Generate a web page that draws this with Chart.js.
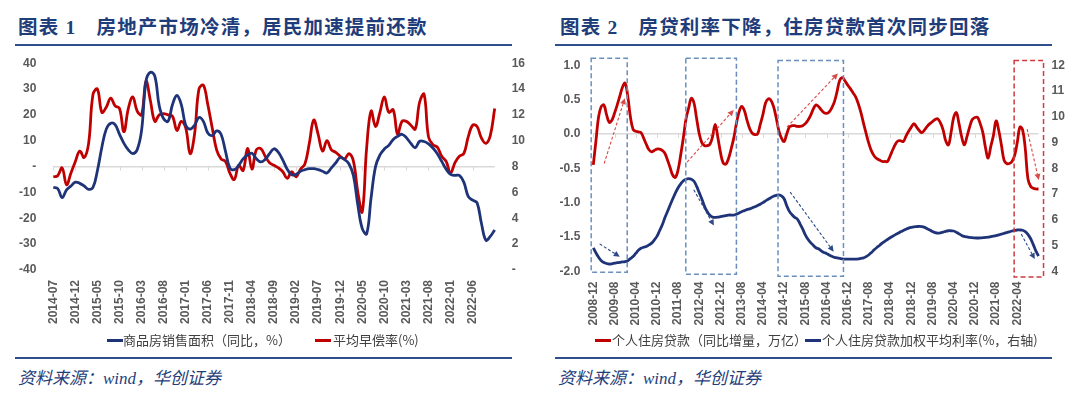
<!DOCTYPE html>
<html><head><meta charset="utf-8">
<script src="https://cdn.jsdelivr.net/npm/chart.js@4.4.0/dist/chart.umd.min.js"></script>
<style>
html,body{margin:0;padding:0;background:#fff;}
body{width:1080px;height:397px;overflow:hidden;position:relative;font-family:"Noto Sans CJK SC",sans-serif;}
.title{position:absolute;top:15px;font-size:19.5px;line-height:26px;font-weight:bold;color:#1f3d7a;letter-spacing:1.2px;white-space:nowrap;font-family:"Liberation Serif","Noto Sans CJK SC",serif;}
.title .b{margin-left:20px;}
.rule{position:absolute;height:2px;background:#2e4f8c;}
.chartbox{position:absolute;width:540px;}
.leg{position:absolute;top:331px;font-size:13px;line-height:18px;color:#404040;white-space:nowrap;}
.sw{position:absolute;top:339px;width:16px;height:3px;}
.source{position:absolute;top:368px;font-size:17px;line-height:22px;font-style:italic;color:#1f3d7a;font-family:"Liberation Serif","Noto Sans CJK SC",serif;white-space:nowrap;}
</style></head>
<body>
<div class="title" style="left:18px">图表 1<span class="b">房地产市场冷清，居民加速提前还款</span></div>
<div class="title" style="left:560px">图表 2<span class="b">房贷利率下降，住房贷款首次同步回落</span></div>
<div class="rule" style="left:15px;width:497px;top:44px"></div>
<div class="rule" style="left:555px;width:497px;top:44px"></div>

<div class="chartbox" style="left:0;top:39px;height:301px"><canvas id="c1" width="540" height="301"></canvas></div>
<div class="chartbox" style="left:540px;top:45px;height:295px"><canvas id="c2" width="540" height="295"></canvas></div>

<div class="sw" style="left:107px;background:#1f3478"></div>
<div class="leg" style="left:123px">商品房销售面积（同比，%）</div>
<div class="sw" style="left:315px;background:#c00000"></div>
<div class="leg" style="left:333px">平均早偿率(%)</div>

<div class="sw" style="left:595px;background:#c00000"></div>
<div class="leg" style="left:612px">个人住房贷款（同比增量，万亿）</div>
<div class="sw" style="left:805px;background:#1f3478"></div>
<div class="leg" style="left:822px">个人住房贷款加权平均利率(%，右轴)</div>

<div class="rule" style="left:15px;width:497px;top:357px"></div>
<div class="rule" style="left:555px;width:497px;top:357px"></div>
<div class="source" style="left:18px">资料来源：wind，华创证券</div>
<div class="source" style="left:558px">资料来源：wind，华创证券</div>

<script>
// ---------- DATA ----------
function monthRange(start, end) {
  let [y, m] = start.split('-').map(Number); const out = [];
  while (true) { const s = y + '-' + String(m).padStart(2, '0'); out.push(s); if (s === end) break; m++; if (m > 12) { m = 1; y++; } }
  return out;
}
// Chart 1 categories (monthly)
const leftMonths = monthRange('2014-07', '2022-11');
const leftTickLabels = ['2014-07','2014-12','2015-05','2015-10','2016-03','2016-08','2017-01','2017-06','2017-11','2018-04','2018-09','2019-02','2019-07','2019-12','2020-05','2020-10','2021-03','2021-08','2022-01','2022-06'];
// 商品房销售面积（同比，%） - left axis
const salesAreaYoY = [
 -8, -8.5, -12, -9, -7.5, -6, -6.5, -7.5, -8.8, -8,
 -1.5, 7.5, 14.5, 16.8, 16.2, 12.5, 9, 6.5, 5, 6.5,
 14, 33, 36.5, 35, 23.5, 18.5, 17.5, 24, 27.5, 24,
 16, 14.5, 16, 19, 17.5, 13, 12, 13.8, 12.5, 6,
 -0.5, -1.2, 0.5, 3, 4.5, 5.2, 3, 1.8, 2.8, 5,
 6.9, 5.5, 2.5, -1, -3.2, -3, -1.8, -1.2, -0.8, -0.8,
 -1.2, -1.8, -2.5, -0.5, 1.5, 3.5, 2.7, 1, -3.5, -15,
 -24, -26, -12, 0, 4.5, 6.8, 8.2, 10.5, 11.7, 12.5,
 11.2, 9, 7.3, 9.8, 9.7, 8.8, 7.2, 5, 2, -1,
 -3, -3.4, -3.4, -6, -11.5, -13, -14, -22, -28.5, -27,
 -24.5];
// 平均早偿率(%) - right axis
const prepayRate = [
 7.2, 7.3, 7.9, 6.6, 7.5, 8.4, 9.2, 8.7, 9.8, 13.6,
 14.0, 12.2, 12.6, 13.3, 12.7, 12.5, 10.7, 12.5, 13.4, 12.3,
 12.0, 14.6, 13.1, 11.5, 12.0, 12.1, 12.0, 11.9, 10.8, 11.5,
 11.0, 9.0, 10.5, 14.0, 14.3, 12.8, 11.0, 9.3, 8.6, 8.4,
 7.5, 7.0, 8.1, 7.7, 9.4, 7.8, 9.3, 9.4, 8.8, 8.3,
 8.1, 7.9, 7.6, 7.1, 7.6, 7.2, 7.8, 8.2, 9.8, 11.6,
 10.5, 9.2, 10.0, 9.3, 9.1, 8.8, 8.6, 9.0, 8.4, 6.0,
 4.5, 9.5, 12.3, 11.1, 12.2, 13.4, 12.2, 12.4, 10.5, 11.5,
 11.5, 11.2, 10.9, 13.0, 13.6, 10.3, 9.7, 9.5, 8.8, 8.4,
 7.5, 8.3, 8.8, 9.0, 10.3, 11.2, 11.1, 10.2, 9.8, 10.4,
 12.5];

// Chart 2 categories (monthly)
const rightMonths = monthRange('2008-12', '2022-12');
const rightTickLabels = ['2008-12','2009-08','2010-04','2010-12','2011-08','2012-04','2012-12','2013-08','2014-04','2014-12','2015-08','2016-04','2016-12','2017-08','2018-04','2018-12','2019-08','2020-04','2020-12','2021-08','2022-04'];
// 个人住房贷款（同比增量，万亿） - left axis
const mortgageYoYIncrement = [
 -0.45, -0.10, 0.25, 0.40, 0.42, 0.28, 0.17, 0.20, 0.30, 0.42,
 0.55, 0.68, 0.74, 0.55, 0.25, 0.07, 0.04, 0.03, 0.02, -0.06,
 -0.15, -0.23, -0.26, -0.24, -0.22, -0.22, -0.24, -0.28, -0.38, -0.49,
 -0.60, -0.63, -0.52, -0.30, -0.05, 0.22, 0.38, 0.52, 0.45, 0.22,
 0.00, -0.13, -0.17, -0.17, -0.15, -0.04, 0.14, -0.05, -0.27, -0.42,
 -0.44, -0.36, -0.22, -0.06, 0.15, 0.32, 0.40, 0.34, 0.20, 0.08,
 0.01, -0.01, 0.00, 0.14, 0.28, 0.45, 0.51, 0.49, 0.40, 0.24,
 0.05, -0.06, -0.11, 0.00, 0.10, 0.12, 0.12, 0.11, 0.11, 0.12,
 0.15, 0.20, 0.27, 0.36, 0.42, 0.40, 0.35, 0.31, 0.30, 0.32,
 0.38, 0.47, 0.62, 0.78, 0.82, 0.77, 0.71, 0.66, 0.60, 0.54,
 0.44, 0.31, 0.15, 0.00, -0.14, -0.25, -0.32, -0.36, -0.38, -0.40,
 -0.40, -0.40, -0.32, -0.23, -0.15, -0.10, -0.10, -0.11, -0.03, 0.04,
 0.10, 0.15, 0.10, 0.05, 0.02, 0.06, 0.11, 0.15, 0.18, 0.21,
 0.22, 0.16, 0.06, -0.10, -0.16, 0.02, 0.24, 0.31, 0.15, -0.04,
 -0.16, -0.04, 0.10, 0.21, 0.24, 0.24, 0.15, 0.02, -0.20, -0.35,
 -0.18, -0.02, 0.19, 0.05, -0.16, -0.38, -0.43, -0.43, -0.40, -0.31,
 -0.12, 0.10, 0.06, -0.21, -0.65, -0.76, -0.79, -0.80, -0.80];
// 个人住房贷款加权平均利率(%，右轴)
const mortgageRate = [
 4.92, 4.72, 4.55, 4.42, 4.35, 4.31, 4.29, 4.30, 4.32, 4.34,
 4.35, 4.37, 4.38, 4.42, 4.50, 4.58, 4.70, 4.82, 4.90, 4.94,
 4.97, 5.03, 5.10, 5.22, 5.36, 5.58, 5.80, 6.08, 6.33, 6.58,
 6.82, 7.05, 7.25, 7.40, 7.52, 7.58, 7.60, 7.58, 7.50, 7.30,
 7.05, 6.80, 6.52, 6.32, 6.18, 6.11, 6.10, 6.11, 6.13, 6.15,
 6.17, 6.19, 6.19, 6.19, 6.22, 6.27, 6.32, 6.36, 6.40, 6.43,
 6.47, 6.51, 6.56, 6.61, 6.67, 6.74, 6.80, 6.86, 6.92, 6.95,
 6.97, 6.93, 6.82, 6.55, 6.33, 6.20, 6.10, 6.03, 5.85, 5.65,
 5.42, 5.25, 5.12, 5.02, 4.92, 4.88, 4.80, 4.74, 4.70, 4.64,
 4.59, 4.55, 4.53, 4.51, 4.49, 4.48, 4.48, 4.48, 4.48, 4.48,
 4.49, 4.51, 4.53, 4.58, 4.65, 4.74, 4.84, 4.93, 5.01, 5.10,
 5.17, 5.24, 5.31, 5.37, 5.43, 5.48, 5.54, 5.59, 5.64, 5.68,
 5.71, 5.73, 5.74, 5.75, 5.74, 5.71, 5.66, 5.61, 5.55, 5.51,
 5.49, 5.50, 5.53, 5.56, 5.58, 5.58, 5.57, 5.52, 5.46, 5.40,
 5.36, 5.34, 5.32, 5.31, 5.30, 5.30, 5.30, 5.31, 5.32, 5.33,
 5.35, 5.37, 5.39, 5.42, 5.45, 5.48, 5.51, 5.54, 5.57, 5.59,
 5.61, 5.61, 5.60, 5.55, 5.44, 5.28, 5.05, 4.80, 4.60];

// Annotations for chart 2 (in category-index / axis-value units)
const highlightBoxes = [
  {from: -0.8, to: 12.8, top: 1.10, bottom: -2.01, kind: 'blue'},
  {from: 34.9, to: 54.0, top: 1.10, bottom: -2.04, kind: 'blue'},
  {from: 69.7, to: 94.4, top: 1.07, bottom: -2.07, kind: 'blue'},
  {from: 158.8, to: 169.9, top: 1.07, bottom: -2.08, kind: 'red'}
];
const trendArrows = [
  {axis: 'y',  x0: 4.1,   y0: -0.43, x1: 11.9,  y1: 0.52, kind: 'red'},
  {axis: 'y1', x0: 2.4,   y0: 5.07,  x1: 10.0,  y1: 4.57, kind: 'blue'},
  {axis: 'y',  x0: 35.4,  y0: -0.41, x1: 53.0,  y1: 0.35, kind: 'red'},
  {axis: 'y1', x0: 37.9,  y0: 7.17,  x1: 45.5,  y1: 5.78, kind: 'blue'},
  {axis: 'y',  x0: 73.1,  y0: 0.10,  x1: 92.3,  y1: 0.88, kind: 'red'},
  {axis: 'y1', x0: 74.3,  y0: 7.08,  x1: 90.7,  y1: 4.77, kind: 'blue'},
  {axis: 'y',  x0: 163.7, y0: 0.07,  x1: 168.1, y1: -0.67, kind: 'red'},
  {axis: 'y1', x0: 161.5, y0: 5.45,  x1: 166.6, y1: 4.48, kind: 'blue'}
];

// ---------- STYLE ----------
const RED = '#c00000', NAVY = '#1f3478', TICK = '#595959', GRID = '#d9d9d9';
const tickFont = {family: 'Liberation Sans', size: 12, weight: 'bold'};

const zeroTicks = {
  id: 'zeroTicks',
  beforeDatasetsDraw(chart, args, opts) {
    const {ctx} = chart, x = chart.scales.x, y0 = chart.scales[opts.axis].getPixelForValue(0);
    ctx.save(); ctx.strokeStyle = GRID; ctx.lineWidth = 1;
    opts.labels.forEach(l => {
      const i = chart.data.labels.indexOf(l); if (i < 0) return;
      const px = Math.round(x.getPixelForValue(i)) + 0.5;
      ctx.beginPath(); ctx.moveTo(px, y0); ctx.lineTo(px, y0 + 4); ctx.stroke();
    });
    ctx.restore();
  }
};

const annotations = {
  id: 'annotations',
  afterDatasetsDraw(chart) {
    const {ctx} = chart, x = chart.scales.x, y = chart.scales.y;
    ctx.save();
    highlightBoxes.forEach(b => {
      const x0 = x.getPixelForValue(b.from), x1 = x.getPixelForValue(b.to);
      const yt = y.getPixelForValue(b.top), yb = y.getPixelForValue(b.bottom);
      ctx.strokeStyle = b.kind === 'red' ? '#d23a3a' : '#6a8fbf';
      ctx.lineWidth = 1.5; ctx.setLineDash([5, 3]);
      ctx.strokeRect(x0, yt, x1 - x0, yb - yt);
    });
    trendArrows.forEach(a => {
      const sy = chart.scales[a.axis];
      const px0 = x.getPixelForValue(a.x0), py0 = sy.getPixelForValue(a.y0);
      const px1 = x.getPixelForValue(a.x1), py1 = sy.getPixelForValue(a.y1);
      const col = a.kind === 'red' ? '#d94a4a' : '#2f4a8a';
      const ang = Math.atan2(py1 - py0, px1 - px0), hl = 6, hw = 3;
      const bx = px1 - hl * Math.cos(ang), by = py1 - hl * Math.sin(ang);
      ctx.strokeStyle = col; ctx.lineWidth = 1.1; ctx.setLineDash([3, 2]);
      ctx.beginPath(); ctx.moveTo(px0, py0); ctx.lineTo(bx, by); ctx.stroke();
      ctx.setLineDash([]); ctx.fillStyle = col;
      ctx.beginPath(); ctx.moveTo(px1, py1);
      ctx.lineTo(bx + hw * Math.sin(ang), by - hw * Math.cos(ang));
      ctx.lineTo(bx - hw * Math.sin(ang), by + hw * Math.cos(ang));
      ctx.closePath(); ctx.fill();
    });
    ctx.restore();
  }
};

function xAxis(tickLabels, h) {
  const set = new Set(tickLabels);
  return {
    offset: false,
    grid: {display: false, drawTicks: false}, border: {display: false},
    ticks: {autoSkip: false, minRotation: 90, maxRotation: 90, padding: 10, color: TICK, font: tickFont,
      callback: function (v) { const l = this.getLabelForValue(v); return set.has(l) ? l : null; }},
    afterFit(s) { s.height = h; }
  };
}
function zeroGrid(ctx) { return ctx.tick && Math.abs(ctx.tick.value) < 1e-9 ? GRID : 'rgba(0,0,0,0)'; }

// ---------- CHART 1 ----------
new Chart(document.getElementById('c1'), {
  type: 'line',
  data: {labels: leftMonths, datasets: [
    {label: '商品房销售面积（同比，%）', data: salesAreaYoY, yAxisID: 'y', borderColor: NAVY, backgroundColor: NAVY, borderWidth: 2.8, pointRadius: 0, tension: 0.4, fill: false},
    {label: '平均早偿率(%)', data: prepayRate, yAxisID: 'y1', borderColor: RED, backgroundColor: RED, borderWidth: 2.8, pointRadius: 0, tension: 0.4, fill: false}
  ]},
  options: {
    responsive: false, maintainAspectRatio: false, animation: false, events: [],
    layout: {padding: 0},
    plugins: {legend: {display: false}, tooltip: {enabled: false}, zeroTicks: {axis: 'y', labels: leftTickLabels}},
    scales: {
      x: xAxis(leftTickLabels, 70),
      y: {position: 'left', min: -40, max: 40, border: {display: false},
        grid: {color: zeroGrid, lineWidth: 1.5, drawTicks: false},
        ticks: {stepSize: 10, padding: 17, color: TICK, font: tickFont, callback: v => v === 0 ? '-' : v},
        afterFit(s) { s.width = 53.3; }},
      y1: {position: 'right', min: 0, max: 16, border: {display: false}, grid: {display: false, drawTicks: false},
        ticks: {stepSize: 2, padding: 17, color: TICK, font: tickFont, callback: v => v === 0 ? '-' : v},
        afterFit(s) { s.width = 45.3; }}
    }
  },
  plugins: [zeroTicks]
});

// ---------- CHART 2 ----------
new Chart(document.getElementById('c2'), {
  type: 'line',
  data: {labels: rightMonths, datasets: [
    {label: '个人住房贷款（同比增量，万亿）', data: mortgageYoYIncrement, yAxisID: 'y', borderColor: RED, backgroundColor: RED, borderWidth: 2.8, pointRadius: 0, tension: 0.4, fill: false},
    {label: '个人住房贷款加权平均利率(%，右轴)', data: mortgageRate, yAxisID: 'y1', borderColor: NAVY, backgroundColor: NAVY, borderWidth: 2.8, pointRadius: 0, tension: 0.4, fill: false}
  ]},
  options: {
    responsive: false, maintainAspectRatio: false, animation: false, events: [],
    layout: {padding: 0},
    plugins: {legend: {display: false}, tooltip: {enabled: false}, zeroTicks: {axis: 'y', labels: rightTickLabels}},
    scales: {
      x: xAxis(rightTickLabels, 68.5),
      y: {position: 'left', min: -2, max: 1, border: {display: false},
        grid: {color: zeroGrid, lineWidth: 1.5, drawTicks: false},
        ticks: {stepSize: 0.5, padding: 13, color: TICK, font: tickFont, callback: v => Number(v).toFixed(1)},
        afterFit(s) { s.width = 53.3; }},
      y1: {position: 'right', min: 4, max: 12, border: {display: false}, grid: {display: false, drawTicks: false},
        ticks: {stepSize: 1, padding: 13, color: TICK, font: tickFont},
        afterFit(s) { s.width = 41.5; }}
    }
  },
  plugins: [zeroTicks, annotations]
});
</script>
</body></html>
